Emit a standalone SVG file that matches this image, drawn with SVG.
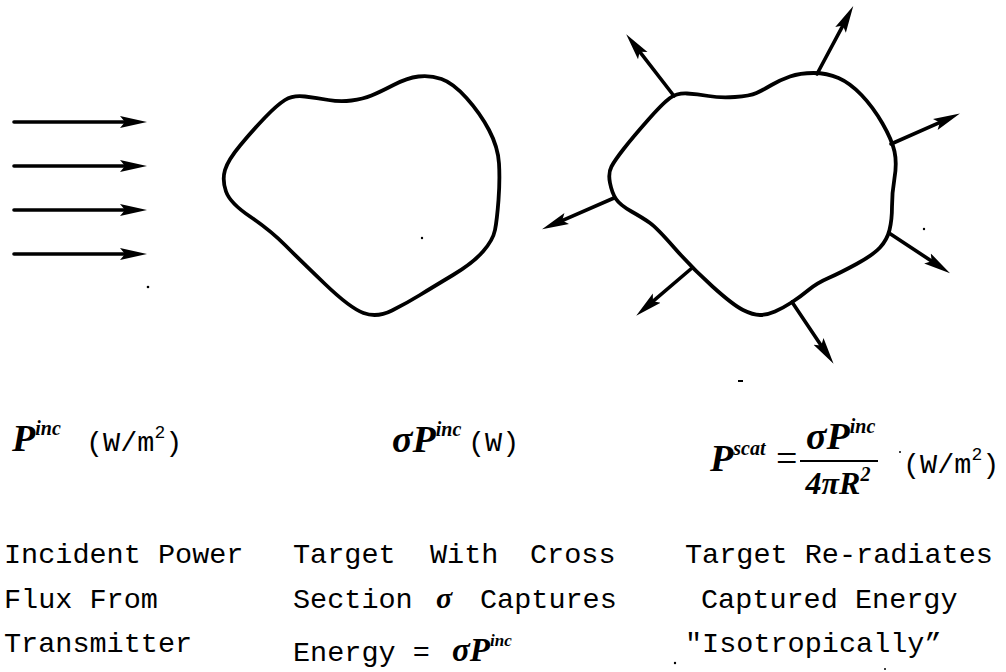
<svg xmlns="http://www.w3.org/2000/svg" width="1006" height="672" viewBox="0 0 1006 672">
  <style>
    .edge { stroke: #000; stroke-width: 3.6; fill: none; stroke-linecap: round; marker-end: url(#head); }
    .body { stroke: #000; stroke-width: 3.8; fill: none; stroke-linejoin: round; }
    .math { font-family: "Liberation Serif", "Times New Roman", serif; font-style: italic; font-weight: bold; fill: #000; }
    .rm { font-family: "Liberation Serif", "Times New Roman", serif; fill: #000; }
    .mono { font-family: "Liberation Mono", "Courier New", monospace; font-size: 28.5px; fill: #000; }
    .speck { fill: #000; }
  </style>
  <defs>
    <marker id="head" markerUnits="userSpaceOnUse" markerWidth="28" markerHeight="14" viewBox="0 0 28 14" refX="12" refY="7" orient="auto">
      <path d="M0,1 L27,7 L0,13 L5,7 Z" fill="#000"/>
    </marker>
  </defs>
  <rect width="1006" height="672" fill="#fff"/>

  <!-- incident flux -->
  <g id="incident-flux">
    <line class="edge" x1="14" y1="122" x2="132" y2="122"/>
    <line class="edge" x1="14" y1="166" x2="132" y2="166"/>
    <line class="edge" x1="14" y1="210" x2="132" y2="210"/>
    <line class="edge" x1="14" y1="254" x2="132" y2="254"/>
  </g>

  <!-- target capturing energy -->
  <g id="target-capture">
    <path class="body" d="M226,191.5 Q222,180 225,170 Q228,160 240.5,145 Q253,130 265,117.5 Q277,105 285,100 Q293,95 305,96.5 Q317,98 328.5,100 Q340,102 351.5,100.5 Q363,99 371.5,95.5 Q380,92 393.5,85 Q407,78 418.5,76.5 Q430,75 441.5,79 Q453,83 466.5,98 Q480,113 489,130 Q498,147 499,163.5 Q500,180 498.5,200 Q497,220 495,230 Q493,240 483,251.5 Q473,263 453,275 Q433,287 420,295 Q407,303 392,310.5 Q377,318 363.5,313 Q350,308 325,284 Q300,260 285,245 Q270,230 250,216.5 Q230,203 226,191.5 Z"/>
  </g>

  <!-- target re-radiating -->
  <g id="target-reradiate">
    <path class="body" d="M611.5,166.5 Q608,173 610,183 Q612,193 616,199 Q620,205 631.5,211.5 Q643,218 650,223 Q657,228 674.5,248 Q692,268 712.5,286.5 Q733,305 743,310 Q753,315 760,315 Q767,315 775,311.5 Q783,308 791.5,302.5 Q800,297 808.5,290 Q817,283 828.5,278 Q840,273 856.5,264 Q873,255 880,247.5 Q887,240 889.5,230 Q892,220 892,206.5 Q892,193 894.5,178 Q897,163 894.5,151.5 Q892,140 882.5,123.5 Q873,107 861.5,95 Q850,83 838.5,78 Q827,73 813.5,73 Q800,73 790,76.5 Q780,80 771.5,85 Q763,90 756.5,93 Q750,96 735,97 Q720,98 708.5,96 Q697,94 687,93.5 Q677,93 670,98 Q663,103 648,120 Q633,137 624,148.5 Q615,160 611.5,166.5 Z"/>
  </g>

  <!-- scattered rays -->
  <g id="scatter-rays">
    <line class="edge" x1="674" y1="96" x2="635.4" y2="46.2"/>
    <line class="edge" x1="817" y1="74" x2="846.2" y2="19.3"/>
    <line class="edge" x1="891" y1="144" x2="946.2" y2="119.6"/>
    <line class="edge" x1="889" y1="233" x2="937.5" y2="265"/>
    <line class="edge" x1="792" y1="302" x2="825.2" y2="351.4"/>
    <line class="edge" x1="692" y1="268" x2="647.6" y2="305.9"/>
    <line class="edge" x1="614" y1="198" x2="555.8" y2="223.3"/>
  </g>

  <!-- quantities -->
  <g id="label-incident">
    <text class="math" x="12" y="451" font-size="38">P<tspan font-size="20" dy="-16">inc</tspan></text>
    <text class="mono" x="86" y="451">(W/m<tspan font-size="18" dy="-13">2</tspan><tspan dy="13">)</tspan></text>
  </g>
  <g id="label-captured">
    <text class="math" x="392" y="452" font-size="38">σP<tspan font-size="20" dy="-16">inc</tspan></text>
    <text class="mono" x="468" y="451">(W)</text>
  </g>
  <g id="label-scattered">
    <text class="math" x="710" y="471" font-size="38">P<tspan font-size="20" dy="-16">scat</tspan></text>
    <text class="rm" x="776" y="471" font-size="38">=</text>
    <line x1="800" y1="461" x2="878" y2="461" stroke="#000" stroke-width="2"/>
    <text class="math" x="806" y="449" font-size="38">σP<tspan font-size="20" dy="-16">inc</tspan></text>
    <text class="math" x="838" y="494" font-size="32" text-anchor="middle">4πR<tspan font-size="20" dy="-13">2</tspan></text>
    <text class="mono" x="903" y="473">(W/m<tspan font-size="18" dy="-13">2</tspan><tspan dy="13">)</tspan></text>
  </g>

  <!-- captions -->
  <g id="caption-incident">
    <text class="mono" x="4" y="563">Incident Power</text>
    <text class="mono" x="4" y="608">Flux From</text>
    <text class="mono" x="4" y="652">Transmitter</text>
  </g>
  <g id="caption-captured">
    <text class="mono" y="563"><tspan x="293">Target</tspan><tspan x="430">With</tspan><tspan x="530">Cross</tspan></text>
    <text class="mono" x="293" y="608">Section</text>
    <text class="math" x="436" y="608" font-size="30">σ</text>
    <text class="mono" x="480" y="608">Captures</text>
    <text class="mono" x="293" y="661">Energy =</text>
    <text class="math" x="452" y="661" font-size="33">σP<tspan font-size="17" dy="-15">inc</tspan></text>
  </g>
  <g id="caption-scattered">
    <text class="mono" x="685" y="563">Target Re-radiates</text>
    <text class="mono" x="701" y="608">Captured Energy</text>
    <text class="mono" x="685" y="652">"Isotropically”</text>
  </g>

  <!-- specks -->
  <g id="specks">
    <circle class="speck" cx="148" cy="287" r="1.3"/>
    <circle class="speck" cx="422" cy="238" r="1.2"/>
    <circle class="speck" cx="924" cy="229" r="1.2"/>
    <circle class="speck" cx="900" cy="452" r="1"/>
    <circle class="speck" cx="675" cy="663" r="1.2"/>
    <circle class="speck" cx="885" cy="669" r="1"/>
    <rect class="speck" x="738" y="380" width="5" height="2"/>
  </g>
</svg>
